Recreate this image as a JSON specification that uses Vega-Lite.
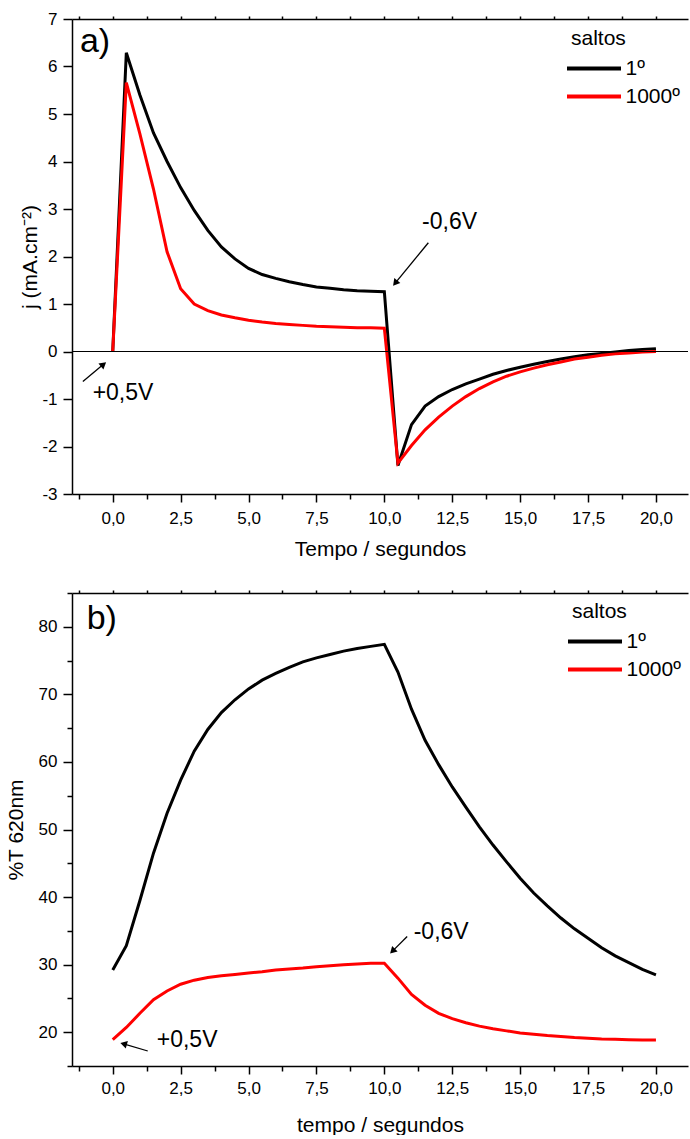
{
  "$schema": "https://vega.github.io/schema/vega-lite/v6.json",
  "padding": {"left": 5, "top": 10, "right": 0, "bottom": 0},
  "background": "white",
  "config": {
    "font": "Liberation Sans",
    "view": {"stroke": null},
    "axis": {
      "labelFont": "Liberation Sans", "labelFontSize": 17, "labelColor": "#000",
      "titleFont": "Liberation Sans", "titleFontSize": 21, "titleFontWeight": "normal", "titleColor": "#000",
      "domainColor": "#000", "domainWidth": 1.5, "tickColor": "#000", "tickWidth": 1.5,
      "grid": false, "labelFlush": false, "labelOverlap": false
    },
    "legend": {
      "titleFont": "Liberation Sans", "labelFont": "Liberation Sans",
      "titleFontSize": 21, "titleFontWeight": "normal", "labelFontSize": 21,
      "titleColor": "#000", "labelColor": "#000"
    }
  },
  "datasets": {
    "topLines": [
      {"t":0,"v":0,"s":"1º"},{"t":0.5,"v":6.29,"s":"1º"},{"t":1,"v":5.4,"s":"1º"},{"t":1.5,"v":4.6,"s":"1º"},{"t":2,"v":4.0,"s":"1º"},{"t":2.5,"v":3.45,"s":"1º"},{"t":3,"v":2.97,"s":"1º"},{"t":3.5,"v":2.55,"s":"1º"},{"t":4,"v":2.2,"s":"1º"},{"t":4.5,"v":1.95,"s":"1º"},{"t":5,"v":1.75,"s":"1º"},{"t":5.5,"v":1.62,"s":"1º"},{"t":6,"v":1.54,"s":"1º"},{"t":6.5,"v":1.47,"s":"1º"},{"t":7,"v":1.41,"s":"1º"},{"t":7.5,"v":1.36,"s":"1º"},{"t":8,"v":1.33,"s":"1º"},{"t":8.5,"v":1.30,"s":"1º"},{"t":9,"v":1.28,"s":"1º"},{"t":9.5,"v":1.27,"s":"1º"},{"t":10,"v":1.26,"s":"1º"},{"t":10.5,"v":-2.40,"s":"1º"},{"t":11,"v":-1.54,"s":"1º"},{"t":11.5,"v":-1.15,"s":"1º"},{"t":12,"v":-0.95,"s":"1º"},{"t":12.5,"v":-0.80,"s":"1º"},{"t":13,"v":-0.68,"s":"1º"},{"t":13.5,"v":-0.58,"s":"1º"},{"t":14,"v":-0.48,"s":"1º"},{"t":14.5,"v":-0.40,"s":"1º"},{"t":15,"v":-0.33,"s":"1º"},{"t":15.5,"v":-0.27,"s":"1º"},{"t":16,"v":-0.21,"s":"1º"},{"t":16.5,"v":-0.16,"s":"1º"},{"t":17,"v":-0.11,"s":"1º"},{"t":17.5,"v":-0.07,"s":"1º"},{"t":18,"v":-0.04,"s":"1º"},{"t":18.5,"v":-0.01,"s":"1º"},{"t":19,"v":0.02,"s":"1º"},{"t":19.5,"v":0.04,"s":"1º"},{"t":20,"v":0.06,"s":"1º"},
      {"t":0,"v":0,"s":"1000º"},{"t":0.5,"v":5.66,"s":"1000º"},{"t":1,"v":4.58,"s":"1000º"},{"t":1.5,"v":3.42,"s":"1000º"},{"t":2,"v":2.1,"s":"1000º"},{"t":2.5,"v":1.32,"s":"1000º"},{"t":3,"v":1.0,"s":"1000º"},{"t":3.5,"v":0.86,"s":"1000º"},{"t":4,"v":0.77,"s":"1000º"},{"t":4.5,"v":0.71,"s":"1000º"},{"t":5,"v":0.66,"s":"1000º"},{"t":5.5,"v":0.62,"s":"1000º"},{"t":6,"v":0.59,"s":"1000º"},{"t":6.5,"v":0.57,"s":"1000º"},{"t":7,"v":0.55,"s":"1000º"},{"t":7.5,"v":0.53,"s":"1000º"},{"t":8,"v":0.52,"s":"1000º"},{"t":8.5,"v":0.51,"s":"1000º"},{"t":9,"v":0.50,"s":"1000º"},{"t":9.5,"v":0.50,"s":"1000º"},{"t":10,"v":0.49,"s":"1000º"},{"t":10.5,"v":-2.35,"s":"1000º"},{"t":11,"v":-1.98,"s":"1000º"},{"t":11.5,"v":-1.65,"s":"1000º"},{"t":12,"v":-1.38,"s":"1000º"},{"t":12.5,"v":-1.15,"s":"1000º"},{"t":13,"v":-0.95,"s":"1000º"},{"t":13.5,"v":-0.78,"s":"1000º"},{"t":14,"v":-0.64,"s":"1000º"},{"t":14.5,"v":-0.52,"s":"1000º"},{"t":15,"v":-0.43,"s":"1000º"},{"t":15.5,"v":-0.35,"s":"1000º"},{"t":16,"v":-0.28,"s":"1000º"},{"t":16.5,"v":-0.22,"s":"1000º"},{"t":17,"v":-0.16,"s":"1000º"},{"t":17.5,"v":-0.12,"s":"1000º"},{"t":18,"v":-0.08,"s":"1000º"},{"t":18.5,"v":-0.05,"s":"1000º"},{"t":19,"v":-0.03,"s":"1000º"},{"t":19.5,"v":-0.01,"s":"1000º"},{"t":20,"v":0.0,"s":"1000º"}
    ],
    "bottomLines": [
      {"t":0,"v":29.2,"s":"1º"},{"t":0.5,"v":32.8,"s":"1º"},{"t":1,"v":39.5,"s":"1º"},{"t":1.5,"v":46.5,"s":"1º"},{"t":2,"v":52.4,"s":"1º"},{"t":2.5,"v":57.3,"s":"1º"},{"t":3,"v":61.6,"s":"1º"},{"t":3.5,"v":64.8,"s":"1º"},{"t":4,"v":67.3,"s":"1º"},{"t":4.5,"v":69.2,"s":"1º"},{"t":5,"v":70.8,"s":"1º"},{"t":5.5,"v":72.1,"s":"1º"},{"t":6,"v":73.1,"s":"1º"},{"t":6.5,"v":74.0,"s":"1º"},{"t":7,"v":74.8,"s":"1º"},{"t":7.5,"v":75.4,"s":"1º"},{"t":8,"v":75.9,"s":"1º"},{"t":8.5,"v":76.4,"s":"1º"},{"t":9,"v":76.8,"s":"1º"},{"t":9.5,"v":77.1,"s":"1º"},{"t":10,"v":77.4,"s":"1º"},{"t":10.5,"v":73.3,"s":"1º"},{"t":11,"v":67.8,"s":"1º"},{"t":11.5,"v":63.2,"s":"1º"},{"t":12,"v":59.6,"s":"1º"},{"t":12.5,"v":56.3,"s":"1º"},{"t":13,"v":53.3,"s":"1º"},{"t":13.5,"v":50.4,"s":"1º"},{"t":14,"v":47.7,"s":"1º"},{"t":14.5,"v":45.2,"s":"1º"},{"t":15,"v":42.8,"s":"1º"},{"t":15.5,"v":40.6,"s":"1º"},{"t":16,"v":38.7,"s":"1º"},{"t":16.5,"v":36.9,"s":"1º"},{"t":17,"v":35.3,"s":"1º"},{"t":17.5,"v":33.9,"s":"1º"},{"t":18,"v":32.5,"s":"1º"},{"t":18.5,"v":31.3,"s":"1º"},{"t":19,"v":30.3,"s":"1º"},{"t":19.5,"v":29.3,"s":"1º"},{"t":20,"v":28.5,"s":"1º"},
      {"t":0,"v":18.9,"s":"1000º"},{"t":0.5,"v":20.7,"s":"1000º"},{"t":1,"v":22.8,"s":"1000º"},{"t":1.5,"v":24.8,"s":"1000º"},{"t":2,"v":26.1,"s":"1000º"},{"t":2.5,"v":27.1,"s":"1000º"},{"t":3,"v":27.7,"s":"1000º"},{"t":3.5,"v":28.1,"s":"1000º"},{"t":4,"v":28.35,"s":"1000º"},{"t":4.5,"v":28.55,"s":"1000º"},{"t":5,"v":28.75,"s":"1000º"},{"t":5.5,"v":28.95,"s":"1000º"},{"t":6,"v":29.2,"s":"1000º"},{"t":6.5,"v":29.35,"s":"1000º"},{"t":7,"v":29.5,"s":"1000º"},{"t":7.5,"v":29.7,"s":"1000º"},{"t":8,"v":29.85,"s":"1000º"},{"t":8.5,"v":30.0,"s":"1000º"},{"t":9,"v":30.1,"s":"1000º"},{"t":9.5,"v":30.2,"s":"1000º"},{"t":10,"v":30.2,"s":"1000º"},{"t":10.5,"v":28.0,"s":"1000º"},{"t":11,"v":25.6,"s":"1000º"},{"t":11.5,"v":24.0,"s":"1000º"},{"t":12,"v":22.8,"s":"1000º"},{"t":12.5,"v":22.0,"s":"1000º"},{"t":13,"v":21.4,"s":"1000º"},{"t":13.5,"v":20.9,"s":"1000º"},{"t":14,"v":20.5,"s":"1000º"},{"t":14.5,"v":20.2,"s":"1000º"},{"t":15,"v":19.9,"s":"1000º"},{"t":15.5,"v":19.7,"s":"1000º"},{"t":16,"v":19.5,"s":"1000º"},{"t":16.5,"v":19.35,"s":"1000º"},{"t":17,"v":19.2,"s":"1000º"},{"t":17.5,"v":19.1,"s":"1000º"},{"t":18,"v":19.0,"s":"1000º"},{"t":18.5,"v":18.95,"s":"1000º"},{"t":19,"v":18.9,"s":"1000º"},{"t":19.5,"v":18.85,"s":"1000º"},{"t":20,"v":18.85,"s":"1000º"}
    ],
    "topNotes": [
      {"label":"+0,5V","t":-0.74,"v":-0.87},
      {"label":"-0,6V","t":11.39,"v":2.73}
    ],
    "topPanel": [{"label":"a)","t":-1.21,"v":6.51}],
    "topArrows": [
      {"id":"up","t":-1.10,"v":-0.63,"t2":-0.34,"v2":-0.27},
      {"id":"down","t":11.62,"v":2.29,"t2":10.40,"v2":1.44}
    ],
    "topHeads": [
      {"id":"up","t":-0.34,"v":-0.27},
      {"id":"down","t":10.40,"v":1.44}
    ],
    "bottomNotes": [
      {"label":"+0,5V","t":1.62,"v":18.9},
      {"label":"-0,6V","t":11.08,"v":34.76}
    ],
    "bottomPanel": [{"label":"b)","t":-0.96,"v":81.2}],
    "bottomArrows": [
      {"id":"left","t":1.29,"v":17.22,"t2":0.40,"v2":18.27},
      {"id":"down","t":10.84,"v":34.17,"t2":10.30,"v2":32.0}
    ],
    "bottomHeads": [
      {"id":"left","t":0.40,"v":18.27},
      {"id":"down","t":10.30,"v":32.0}
    ]
  },
  "vconcat": [
    {
      "width": 616,
      "height": 475,
      "resolve": {"axis": {"x": "independent"}},
      "encoding": {
        "y": {"field": "v", "type": "quantitative",
          "scale": {"domain": [-3, 7], "nice": false, "zero": false},
          "axis": {"title": "j (mA.cm⁻²)",
            "values": [-3,-2.5,-2,-1.5,-1,-0.5,0,0.5,1,1.5,2,2.5,3,3.5,4,4.5,5,5.5,6,6.5,7],
            "format": "d",
            "labelExpr": "datum.value % 1 === 0 ? replace(datum.label, '\u2212', '-') : ''",
            "tickSize": {"condition": {"test": "datum.value % 1 !== 0", "value": 5}, "value": 9},
            "labelPadding": 6, "titlePadding": 1}}
      },
      "layer": [
        {
          "data": {"name": "topLines"},
          "mark": {"type": "line", "strokeWidth": 3},
          "encoding": {
            "x": {"field": "t", "type": "quantitative",
              "scale": {"domain": [-1.5, 21.18], "nice": false, "zero": false},
              "axis": {"orient": "bottom", "title": "Tempo / segundos",
                "values": [-1.25,0,1.25,2.5,3.75,5,6.25,7.5,8.75,10,11.25,12.5,13.75,15,16.25,17.5,18.75,20],
                "format": ".1f",
                "labelExpr": "datum.value % 2.5 === 0 ? replace(datum.label, '.', ',') : ''",
                "tickSize": {"condition": {"test": "datum.value % 2.5 !== 0", "value": 5}, "value": 8},
                "labelPadding": 8, "titlePadding": 12}},
            "color": {"field": "s", "type": "nominal",
              "scale": {"domain": ["1º", "1000º"], "range": ["#000000", "#ff0000"]},
              "legend": {"title": "saltos", "orient": "none", "legendX": 499, "legendY": 9,
                "symbolType": "M-2,0H2", "symbolStrokeWidth": 4, "symbolSize": 729, "symbolOffset": 7.5,
                "rowPadding": 2, "titlePadding": 4, "labelOffset": 16}}
          }
        },
        {
          "data": {"values": [{"v": 0}]},
          "mark": {"type": "rule", "color": "#000", "strokeWidth": 1.2},
          "encoding": {}
        },
        {
          "data": {"name": "topArrows"},
          "mark": {"type": "rule", "color": "#000", "strokeWidth": 1.3},
          "encoding": {
            "x": {"field": "t", "type": "quantitative", "axis": null},
            "x2": {"field": "t2"}, "y2": {"field": "v2"}
          }
        },
        {
          "data": {"name": "topHeads"},
          "transform": [{"filter": "datum.id === 'up'"}],
          "mark": {"type": "point", "shape": "triangle-up", "filled": true, "color": "#000", "opacity": 1, "size": 60, "angle": 50},
          "encoding": {
            "x": {"field": "t", "type": "quantitative", "axis": null}
          }
        },
        {
          "data": {"name": "topHeads"},
          "transform": [{"filter": "datum.id === 'down'"}],
          "mark": {"type": "point", "shape": "triangle-up", "filled": true, "color": "#000", "opacity": 1, "size": 60, "angle": 219},
          "encoding": {
            "x": {"field": "t", "type": "quantitative", "axis": null}
          }
        },
        {
          "data": {"name": "topNotes"},
          "mark": {"type": "text", "font": "Liberation Sans", "fontSize": 23, "align": "left", "baseline": "middle", "color": "#000"},
          "encoding": {
            "x": {"field": "t", "type": "quantitative", "axis": null},
            "text": {"field": "label"}
          }
        },
        {
          "data": {"name": "topPanel"},
          "mark": {"type": "text", "font": "Liberation Sans", "fontSize": 34, "align": "left", "baseline": "middle", "color": "#000"},
          "encoding": {
            "x": {"field": "t", "type": "quantitative",
              "axis": {"orient": "top", "title": null, "labels": false,
                "values": [-1.25,0,1.25,2.5,3.75,5,6.25,7.5,8.75,10,11.25,12.5,13.75,15,16.25,17.5,18.75,20],
                "tickSize": 3}},
            "text": {"field": "label"}
          }
        }
      ]
    },
    {
      "width": 616,
      "height": 473,
      "resolve": {"axis": {"x": "independent"}},
      "encoding": {
        "y": {"field": "v", "type": "quantitative",
          "scale": {"domain": [15, 85], "nice": false, "zero": false},
          "axis": {"title": "%T 620nm",
            "values": [15,20,25,30,35,40,45,50,55,60,65,70,75,80,85],
            "format": "d",
            "labelExpr": "datum.value % 10 === 0 ? datum.label : ''",
            "tickSize": {"condition": {"test": "datum.value % 10 !== 0", "value": 5}, "value": 9},
            "labelPadding": 6, "titlePadding": 12}}
      },
      "layer": [
        {
          "data": {"name": "bottomLines"},
          "mark": {"type": "line", "strokeWidth": 3},
          "encoding": {
            "x": {"field": "t", "type": "quantitative",
              "scale": {"domain": [-1.5, 21.18], "nice": false, "zero": false},
              "axis": {"orient": "bottom", "title": "tempo / segundos",
                "values": [-1.25,0,1.25,2.5,3.75,5,6.25,7.5,8.75,10,11.25,12.5,13.75,15,16.25,17.5,18.75,20],
                "format": ".1f",
                "labelExpr": "datum.value % 2.5 === 0 ? replace(datum.label, '.', ',') : ''",
                "tickSize": {"condition": {"test": "datum.value % 2.5 !== 0", "value": 5}, "value": 8},
                "labelPadding": 6, "titlePadding": 18}},
            "color": {"field": "s", "type": "nominal",
              "scale": {"domain": ["1º", "1000º"], "range": ["#000000", "#ff0000"]},
              "legend": {"title": "saltos", "orient": "none", "legendX": 500, "legendY": 8,
                "symbolType": "M-2,0H2", "symbolStrokeWidth": 4, "symbolSize": 729, "symbolOffset": 7.5,
                "rowPadding": 2, "titlePadding": 4, "labelOffset": 16}}
          }
        },
        {
          "data": {"name": "bottomArrows"},
          "mark": {"type": "rule", "color": "#000", "strokeWidth": 1.3},
          "encoding": {
            "x": {"field": "t", "type": "quantitative", "axis": null},
            "x2": {"field": "t2"}, "y2": {"field": "v2"}
          }
        },
        {
          "data": {"name": "bottomHeads"},
          "transform": [{"filter": "datum.id === 'left'"}],
          "mark": {"type": "point", "shape": "triangle-up", "filled": true, "color": "#000", "opacity": 1, "size": 60, "angle": 286},
          "encoding": {
            "x": {"field": "t", "type": "quantitative", "axis": null}
          }
        },
        {
          "data": {"name": "bottomHeads"},
          "transform": [{"filter": "datum.id === 'down'"}],
          "mark": {"type": "point", "shape": "triangle-up", "filled": true, "color": "#000", "opacity": 1, "size": 60, "angle": 225},
          "encoding": {
            "x": {"field": "t", "type": "quantitative", "axis": null}
          }
        },
        {
          "data": {"name": "bottomNotes"},
          "mark": {"type": "text", "font": "Liberation Sans", "fontSize": 23, "align": "left", "baseline": "middle", "color": "#000"},
          "encoding": {
            "x": {"field": "t", "type": "quantitative", "axis": null},
            "text": {"field": "label"}
          }
        },
        {
          "data": {"name": "bottomPanel"},
          "mark": {"type": "text", "font": "Liberation Sans", "fontSize": 34, "align": "left", "baseline": "middle", "color": "#000"},
          "encoding": {
            "x": {"field": "t", "type": "quantitative",
              "axis": {"orient": "top", "title": null, "labels": false,
                "values": [-1.25,0,1.25,2.5,3.75,5,6.25,7.5,8.75,10,11.25,12.5,13.75,15,16.25,17.5,18.75,20],
                "tickSize": 3}},
            "text": {"field": "label"}
          }
        }
      ]
    }
  ],
  "spacing": 25,
  "resolve": {"scale": {"color": "independent"}, "legend": {"color": "independent"}}
}
